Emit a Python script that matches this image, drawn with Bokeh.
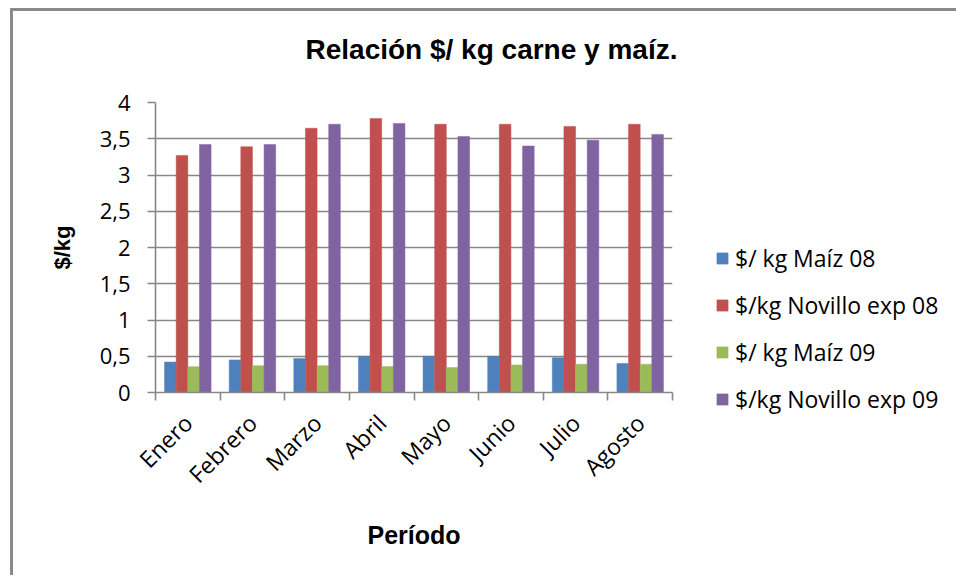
import math
from bokeh.plotting import figure
from bokeh.models import (ColumnDataSource, Range1d, FixedTicker, CustomJSTickFormatter,
                          Legend, LegendItem, Title)
from bokeh.transform import dodge
from bokeh.embed import file_html
from bokeh.resources import INLINE

# ---- data ----
months = ["Enero", "Febrero", "Marzo", "Abril", "Mayo", "Junio", "Julio", "Agosto"]
maiz_08 = [0.42, 0.45, 0.47, 0.50, 0.50, 0.50, 0.48, 0.40]
novillo_08 = [3.27, 3.39, 3.645, 3.78, 3.70, 3.70, 3.67, 3.70]
maiz_09 = [0.355, 0.37, 0.37, 0.36, 0.345, 0.38, 0.39, 0.39]
novillo_09 = [3.42, 3.42, 3.70, 3.71, 3.53, 3.40, 3.48, 3.56]
series_names = ["$/ kg Maíz 08", "$/kg Novillo exp 08", "$/ kg Maíz 09", "$/kg Novillo exp 09"]
series_colors = ["#4F81BD", "#C0504D", "#9BBB59", "#8064A2"]
y_ticks = [0, 0.5, 1, 1.5, 2, 2.5, 3, 3.5, 4]
y_tick_labels = ["0", "0,5", "1", "1,5", "2", "2,5", "3", "3,5", "4"]
chart_title = "Relación $/ kg carne y maíz."

n = len(months)
centers = [i + 0.5 for i in range(n)]
bounds = [float(i) for i in range(n + 1)]

src = ColumnDataSource(dict(x=centers, s0=maiz_08, s1=novillo_08, s2=maiz_09, s3=novillo_09))

GRID = "#878787"
TICK_FONT = "Open Sans"
BOLD_FONT = "Liberation Sans"

p = figure(width=940, height=564, frame_width=517, frame_height=290, title=None,
           x_range=Range1d(0, n), y_range=Range1d(0, 4),
           output_backend="svg", toolbar_location=None,
           min_border_left=142, min_border_right=281,
           min_border_top=91, min_border_bottom=183)
p.styles = {"border-left": "3px solid #8a8a8a", "border-top": "3px solid #8a8a8a",
            "margin-left": "10px", "margin-top": "8px"}
p.outline_line_color = None
p.background_fill_color = "white"
p.border_fill_color = "white"

bar_w = 0.18
items = []
for k, (fld, col, name) in enumerate(zip(["s0", "s1", "s2", "s3"], series_colors, series_names)):
    off = (k - 1.5) * bar_w
    r = p.vbar(x=dodge("x", off), top=fld, width=bar_w, source=src,
               fill_color=col, line_color=col, line_width=0.5)
    items.append(LegendItem(label=name, renderers=[r]))

# title: a thin spacer next to the frame, then the real title above it
spacer = Title(text=" ", text_font_size="1px", standoff=35)
p.add_layout(spacer, "above")
main_title = Title(text=chart_title, align="left", offset=150, standoff=0,
                   text_font=BOLD_FONT, text_font_size="28px", text_font_style="bold",
                   text_color="black")
p.add_layout(main_title, "above")

# grid
p.xgrid.visible = False
p.ygrid.ticker = FixedTicker(ticks=y_ticks)
p.ygrid.grid_line_color = GRID
p.ygrid.grid_line_width = 1.6

# y axis
ya = p.yaxis[0]
ya.ticker = FixedTicker(ticks=y_ticks)
ya.formatter = CustomJSTickFormatter(args=dict(yt=y_ticks, yl=y_tick_labels), code="""
    for (let i = 0; i < yt.length; i++) { if (Math.abs(yt[i] - tick) < 1e-9) return yl[i]; }
    return '';
""")
ya.axis_line_color = GRID
ya.axis_line_width = 1.6
ya.major_tick_line_color = GRID
ya.major_tick_line_width = 1.6
ya.major_tick_out = 8
ya.major_tick_in = 0
ya.minor_tick_line_color = None
ya.major_label_standoff = 17
ya.major_label_text_font = TICK_FONT
ya.major_label_text_font_size = "22px"
ya.major_label_text_color = "black"
ya.axis_label = "$/kg"
ya.axis_label_text_font = BOLD_FONT
ya.axis_label_text_font_size = "22px"
ya.axis_label_text_font_style = "bold"
ya.axis_label_text_color = "black"
ya.axis_label_standoff = 22

# x axis
xa = p.xaxis[0]
xa.ticker = FixedTicker(ticks=centers, minor_ticks=bounds)
xa.formatter = CustomJSTickFormatter(args=dict(mlabels=months),
                                     code="return mlabels[Math.floor(tick)] || '';")
xa.axis_line_color = GRID
xa.axis_line_width = 1.6
xa.major_tick_line_color = None
xa.major_tick_out = 0
xa.major_tick_in = 0
xa.minor_tick_line_color = GRID
xa.minor_tick_line_width = 1.6
xa.minor_tick_out = 8
xa.minor_tick_in = 0
xa.major_label_orientation = math.pi / 4
xa.major_label_standoff = 18
xa.major_label_text_font = TICK_FONT
xa.major_label_text_font_size = "23px"
xa.major_label_text_color = "black"
xa.axis_label = "Período"
xa.axis_label_text_font = BOLD_FONT
xa.axis_label_text_font_size = "25px"
xa.axis_label_text_font_style = "bold"
xa.axis_label_text_color = "black"
xa.axis_label_standoff = 17

# legend
lg = Legend(items=items, location=(43, -23))
lg.padding = 0
lg.margin = 0
lg.border_line_color = None
lg.background_fill_alpha = 0
lg.glyph_width = 14
lg.glyph_height = 14
lg.label_standoff = 6
lg.label_height = 30
lg.spacing = 15
lg.label_text_font = TICK_FONT
lg.label_text_font_size = "23px"
lg.label_text_color = "black"
p.add_layout(lg, "right")

open("out.html", "w").write(file_html(p, INLINE))
